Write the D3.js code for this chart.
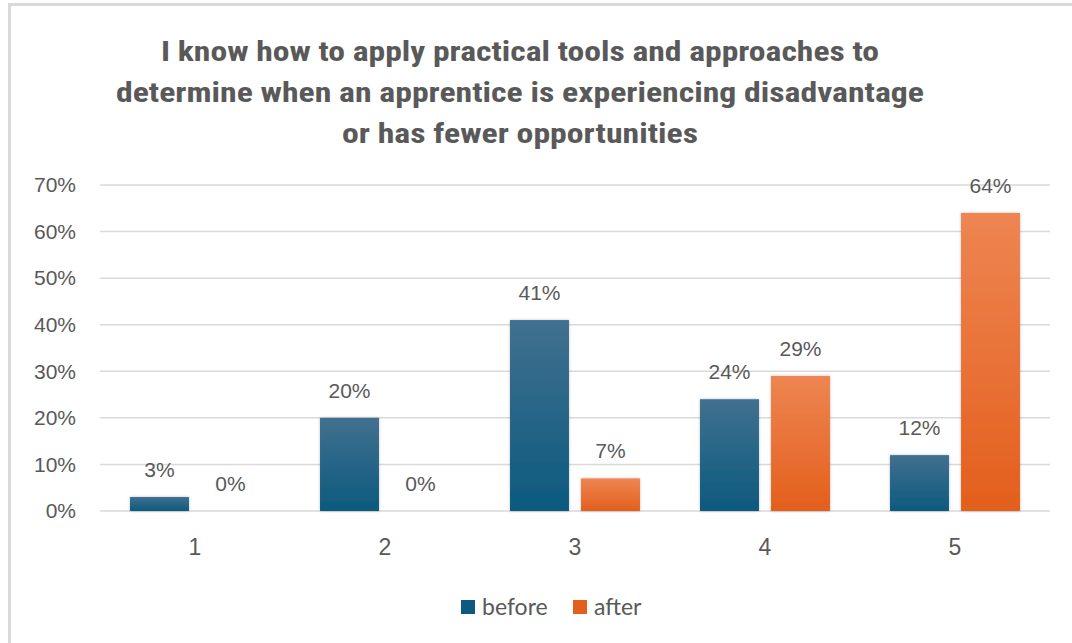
<!DOCTYPE html>
<html>
<head>
<meta charset="utf-8">
<script src="https://cdn.jsdelivr.net/npm/d3@7"></script>
<style>
  body { margin: 0; background: #fff; }
  svg { display: block; }
</style>
</head>
<body>
<script>
// chart values
const categories = ["1", "2", "3", "4", "5"];
const seriesNames = ["before", "after"];
const before = [3, 20, 41, 24, 12];
const after = [0, 0, 7, 29, 64];
const yTicks = [0, 10, 20, 30, 40, 50, 60, 70];
const titleLines = [
  "I know how to apply practical tools and approaches to",
  "determine when an apprentice is experiencing disadvantage",
  "or has fewer opportunities"
];

const W = 1072, H = 643;
const textColor = "#595959";

const svg = d3.select("body").append("svg")
    .attr("width", W)
    .attr("height", H);

const defs = svg.append("defs");

// gradients like the excel fill
const grads = {
  before: ["#41708f", "#0c5a7f"],
  after: ["#ee8552", "#e35f1c"]
};
Object.keys(grads).forEach(k => {
  const g = defs.append("linearGradient")
      .attr("id", "grad-" + k)
      .attr("x1", 0).attr("y1", 0).attr("x2", 0).attr("y2", 1);
  g.append("stop").attr("offset", "0%").attr("stop-color", grads[k][0]);
  g.append("stop").attr("offset", "100%").attr("stop-color", grads[k][1]);
});

defs.append("filter")
    .attr("id", "shadow")
    .attr("x", "-20%").attr("y", "-20%").attr("width", "140%").attr("height", "140%")
  .append("feDropShadow")
    .attr("dx", 0).attr("dy", 0)
    .attr("stdDeviation", 1.5)
    .attr("flood-color", "#000")
    .attr("flood-opacity", 0.25);

// frame (only top and left edges show)
svg.append("line")
    .attr("x1", 8).attr("x2", W).attr("y1", 4.5).attr("y2", 4.5)
    .attr("stroke", "#d9d9d9").attr("stroke-width", 3);
svg.append("line")
    .attr("x1", 9.5).attr("x2", 9.5).attr("y1", 3).attr("y2", H)
    .attr("stroke", "#d9d9d9").attr("stroke-width", 3);

// title (condensed look: squeeze a bigger font into the measured widths)
const titleWidths = [718, 808, 356];
const titleBase = [61, 102, 143];
svg.append("g").selectAll("text")
    .data(titleLines)
    .enter()
    .append("text")
    .attr("x", 520)
    .attr("y", (d, i) => titleBase[i])
    .attr("text-anchor", "middle")
    .attr("textLength", (d, i) => titleWidths[i])
    .attr("lengthAdjust", "spacingAndGlyphs")
    .attr("font-family", "'Liberation Sans Narrow', 'Roboto Condensed', 'Liberation Sans', sans-serif")
    .attr("font-weight", "bold")
    .attr("font-size", 28)
    .attr("fill", textColor)
    .text(d => d);

// scales
const x0 = d3.scaleBand()
    .domain(categories)
    .range([100, 1050])
    .paddingInner(0.316)
    .paddingOuter(0.158);

const x1 = d3.scaleBand()
    .domain(seriesNames)
    .range([0, x0.bandwidth()])
    .paddingInner(0.17);

const y = d3.scaleLinear()
    .domain([0, 70])
    .range([511, 185]);

// gridlines
svg.append("g").selectAll("line")
    .data(yTicks)
    .enter()
    .append("line")
    .attr("x1", 100).attr("x2", 1050)
    .attr("y1", d => y(d)).attr("y2", d => y(d))
    .attr("stroke", "#d9d9d9")
    .attr("stroke-width", 1.5);

// y axis labels
const yAxis = svg.append("g")
    .attr("transform", "translate(76,0)")
    .call(d3.axisLeft(y).tickValues(yTicks).tickFormat(d => d + "%").tickSize(0).tickPadding(0));
yAxis.select(".domain").remove();
yAxis.selectAll("text")
    .attr("font-family", "'Liberation Sans', Arial, sans-serif")
    .attr("font-size", 21)
    .attr("fill", textColor);

// x axis labels
const xAxis = svg.append("g")
    .attr("transform", "translate(0,511)")
    .call(d3.axisBottom(x0).tickSize(0).tickPadding(0));
xAxis.select(".domain").remove();
xAxis.selectAll("text")
    .attr("y", 44)
    .attr("dy", 0)
    .attr("font-family", "'Liberation Sans', Arial, sans-serif")
    .attr("font-size", 23)
    .attr("fill", textColor);

// bars
const rows = categories.map((c, i) => ({ cat: c, values: { before: before[i], after: after[i] } }));

const groups = svg.append("g").selectAll("g")
    .data(rows)
    .enter()
    .append("g")
    .attr("transform", d => "translate(" + x0(d.cat) + ",0)");

groups.selectAll("rect")
    .data(d => seriesNames.map(s => ({ s: s, v: d.values[s] })))
    .enter()
    .append("rect")
    .attr("x", d => x1(d.s))
    .attr("y", d => y(d.v))
    .attr("width", x1.bandwidth())
    .attr("height", d => y(0) - y(d.v))
    .attr("fill", d => "url(#grad-" + d.s + ")")
    .attr("filter", d => d.v > 0 ? "url(#shadow)" : null);

// data labels
groups.selectAll("text.lbl")
    .data(d => seriesNames.map(s => ({ s: s, v: d.values[s] })))
    .enter()
    .append("text")
    .attr("class", "lbl")
    .attr("x", d => x1(d.s) + x1.bandwidth() / 2)
    .attr("y", d => y(d.v) - 20)
    .attr("text-anchor", "middle")
    .attr("font-family", "'Liberation Sans', Arial, sans-serif")
    .attr("font-size", 21)
    .attr("fill", textColor)
    .text(d => d.v + "%");

// legend
const legend = svg.append("g");
const legendX = { before: 461, after: 573 };
seriesNames.forEach(s => {
  legend.append("rect")
      .attr("x", legendX[s]).attr("y", 600)
      .attr("width", 14).attr("height", 14)
      .attr("fill", grads[s][1]);
  legend.append("text")
      .attr("x", legendX[s] + 21).attr("y", 615)
      .attr("font-family", "Lato, 'Liberation Sans', sans-serif")
      .attr("font-size", 23)
      .attr("fill", textColor)
      .text(s);
});
</script>
</body>
</html>
